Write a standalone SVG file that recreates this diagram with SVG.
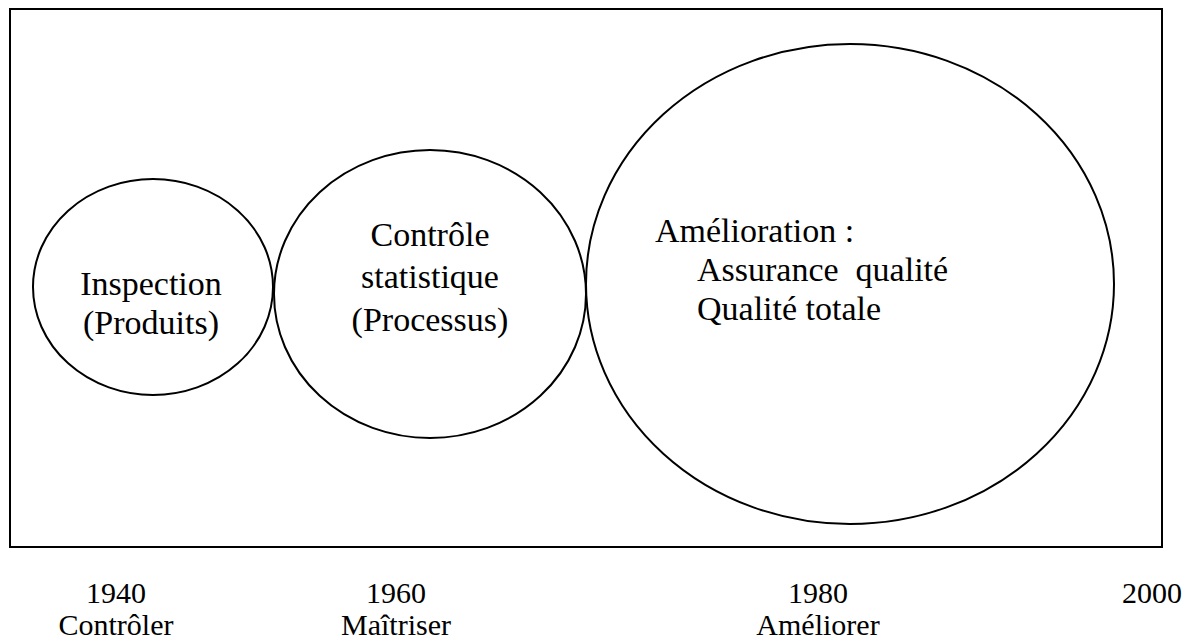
<svg xmlns="http://www.w3.org/2000/svg" width="1190" height="640" viewBox="0 0 1190 640">
<style>
.shape{fill:none;stroke:#000;stroke-width:2}
text{font-family:'Liberation Serif',Tinos,'Times New Roman',Times,'DejaVu Serif','Noto Serif',serif;fill:#000}
.big{font-size:34px}
.small{font-size:30px}
.c{text-anchor:middle}
</style>
<rect x="0" y="0" width="1190" height="640" fill="#fff"/>
<g id="frame"><rect class="shape" x="10" y="9" width="1152" height="538"/></g>
<g id="node-inspection">
<ellipse class="shape" cx="153" cy="287" rx="120" ry="108"/>
<text class="big c" x="151" y="295" font-family="Liberation Serif, DejaVu Serif, serif">Inspection</text>
<text class="big c" x="151" y="334" font-family="Liberation Serif, DejaVu Serif, serif">(Produits)</text>
</g>
<g id="node-controle">
<ellipse class="shape" cx="430" cy="294" rx="156" ry="144"/>
<text class="big c" x="430" y="246" font-family="Liberation Serif, DejaVu Serif, serif">Contrôle</text>
<text class="big c" x="430" y="288" font-family="Liberation Serif, DejaVu Serif, serif">statistique</text>
<text class="big c" x="430" y="331" font-family="Liberation Serif, DejaVu Serif, serif">(Processus)</text>
</g>
<g id="node-amelioration">
<ellipse class="shape" cx="850" cy="284" rx="264" ry="240"/>
<text class="big" x="655" y="242" font-family="Liberation Serif, DejaVu Serif, serif">Amélioration :</text>
<text class="big" x="697" y="281" font-family="Liberation Serif, DejaVu Serif, serif" xml:space="preserve">Assurance  qualité</text>
<text class="big" x="697" y="320" font-family="Liberation Serif, DejaVu Serif, serif">Qualité totale</text>
</g>
<g id="connectors"></g>
<g id="timeline">
<text class="small c" x="116" y="603" font-family="Liberation Serif, DejaVu Serif, serif">1940</text>
<text class="small c" x="116" y="635" font-family="Liberation Serif, DejaVu Serif, serif">Contrôler</text>
<text class="small c" x="396" y="603" font-family="Liberation Serif, DejaVu Serif, serif">1960</text>
<text class="small c" x="396" y="635" font-family="Liberation Serif, DejaVu Serif, serif">Maîtriser</text>
<text class="small c" x="818" y="603" font-family="Liberation Serif, DejaVu Serif, serif">1980</text>
<text class="small c" x="818" y="635" font-family="Liberation Serif, DejaVu Serif, serif">Améliorer</text>
<text class="small c" x="1152" y="603" font-family="Liberation Serif, DejaVu Serif, serif">2000</text>
</g>
</svg>
